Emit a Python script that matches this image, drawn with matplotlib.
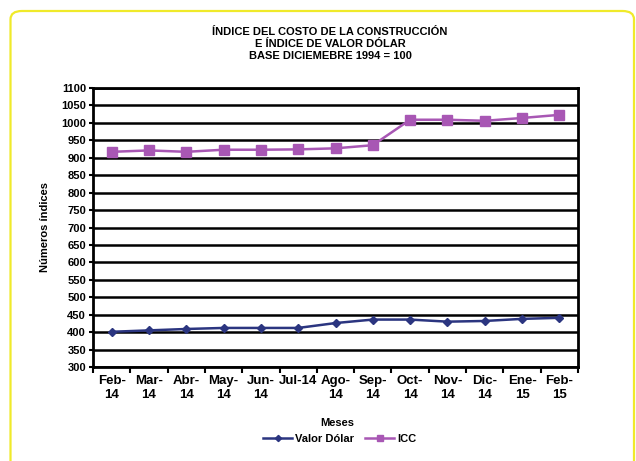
import matplotlib
matplotlib.use("Agg")
import matplotlib.pyplot as plt
from matplotlib.patches import FancyBboxPatch
from matplotlib import font_manager

months = ["Feb-\n14", "Mar-\n14", "Abr-\n14", "May-\n14", "Jun-\n14", "Jul-14",
          "Ago-\n14", "Sep-\n14", "Oct-\n14", "Nov-\n14", "Dic-\n14", "Ene-\n15", "Feb-\n15"]
valor_dolar = [401, 405, 409, 412, 412, 412, 426, 436, 436, 430, 432, 438, 441]
icc = [917, 921, 917, 923, 923, 924, 927, 936, 1009, 1009, 1006, 1014, 1023]
yticks = list(range(300, 1101, 50))

names = {f.name for f in font_manager.fontManager.ttflist}
fam = "Liberation Sans Narrow" if "Liberation Sans Narrow" in names else "Liberation Sans"
plt.rcParams["font.family"] = [fam, "DejaVu Sans"]
plt.rcParams["font.weight"] = "bold"

fig = plt.figure(figsize=(6.36, 4.61), dpi=100)
fig.patch.set_facecolor("white")

# yellow rounded frame (extends past the bottom edge as in the reference)
x0, x1 = 10.5 / 636, 634 / 636
y1, y0 = 1 - 11 / 461, -0.03
frame = FancyBboxPatch((x0, y0), x1 - x0, y1 - y0,
                       boxstyle="round,pad=0,rounding_size=0.018",
                       transform=fig.transFigure, facecolor="none", edgecolor="#f0ea2a",
                       linewidth=1.6, zorder=0, clip_on=False)
fig.patches.append(frame)

ax = fig.add_axes([93/636, 1-367/461, (578-93)/636, (367-88)/461])
x = list(range(len(months)))
ax.plot(x, valor_dolar, color="#2b3580", marker="D", markersize=4.5, linewidth=1.8,
        label="Valor Dólar", zorder=3)
ax.plot(x, icc, color="#a857b4", marker="s", markersize=6.5, linewidth=1.8,
        label="ICC", zorder=3)

ax.set_xlim(-0.5, len(months) - 0.5)
ax.set_ylim(300, 1100)
ax.set_yticks(yticks)
ax.set_yticklabels([str(v) for v in yticks], fontsize=8, fontweight="bold")
ax.set_xticks([i - 0.5 for i in range(len(months) + 1)], minor=False)
ax.set_xticklabels([])
ax.set_xticks(x, minor=True)
ax.set_xticklabels(months, minor=True, fontsize=9.5, fontweight="bold", linespacing=1.2)
ax.tick_params(axis="x", which="minor", length=0, pad=6)
ax.tick_params(axis="x", which="major", length=4, width=1.5, direction="out")
ax.tick_params(axis="y", length=3, width=1.5, pad=2)
ax.grid(axis="y", color="black", linewidth=1.8, zorder=1)
ax.set_axisbelow(True)
for s in ax.spines.values():
    s.set_linewidth(2)
    s.set_color("black")

ax.set_ylabel("Números índices", fontsize=8, fontweight="bold", labelpad=8)
fig.text(330/636, 1-44/461,
         "ÍNDICE DEL COSTO DE LA CONSTRUCCIÓN\nE ÍNDICE DE VALOR DÓLAR\nBASE DICIEMEBRE 1994 = 100",
         ha="center", va="center", fontsize=8, fontweight="bold", linespacing=1.2)
fig.text(337/636, 1-423/461, "Meses", ha="center", va="center", fontsize=8, fontweight="bold")
fig.legend(loc="center", bbox_to_anchor=(340/636, 1-439/461), ncol=2, frameon=False,
           handlelength=2.6, columnspacing=1.0, handletextpad=0.3, markerscale=0.7,
           prop={"weight": "bold", "size": 8})

fig.savefig("out.png", dpi=100, facecolor="white")
